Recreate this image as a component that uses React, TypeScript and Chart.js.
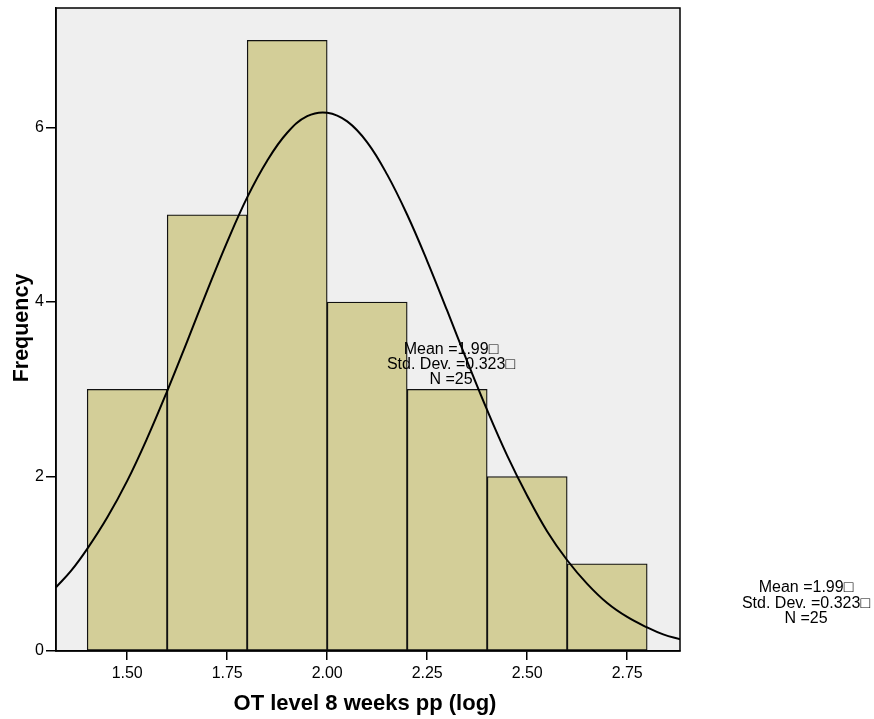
import React, { useEffect, useRef } from "react";
import { Chart, registerables } from "chart.js";

Chart.register(...registerables);

const binCenters = [1.5, 1.7, 1.9, 2.1, 2.3, 2.5, 2.7];
const frequencies = [3, 5, 7, 4, 3, 2, 1];

const curveX = [1.322, 1.36, 1.4, 1.45, 1.5, 1.55, 1.6, 1.65, 1.7, 1.75, 1.8, 1.85, 1.9, 1.95, 2.0, 2.05, 2.1, 2.15, 2.2, 2.25, 2.3, 2.35, 2.4, 2.45, 2.5, 2.55, 2.6, 2.65, 2.7, 2.75, 2.8, 2.84, 2.885];
const curveY = [0.73, 0.92, 1.17, 1.53, 1.95, 2.44, 2.98, 3.55, 4.13, 4.69, 5.2, 5.62, 5.94, 6.13, 6.17, 6.07, 5.83, 5.46, 5.0, 4.47, 3.9, 3.32, 2.76, 2.24, 1.78, 1.37, 1.04, 0.77, 0.55, 0.39, 0.27, 0.19, 0.13];

const xTickValues = [1.5, 1.75, 2.0, 2.25, 2.5, 2.75];
const xTickLabels = ["1.50", "1.75", "2.00", "2.25", "2.50", "2.75"];
const yTickValues = [0, 2, 4, 6];
const yTickLabels = ["0", "2", "4", "6"];

const xTitle = "OT level 8 weeks pp (log)";
const yTitle = "Frequency";
const statsLines = ["Mean =1.99\u25A1", "Std. Dev. =0.323\u25A1", "N =25"];

const FONT = "Arial, 'Liberation Sans', Helvetica, sans-serif";

export default function App() {
  const ref = useRef<HTMLCanvasElement | null>(null);

  useEffect(() => {
    const canvas = ref.current;
    if (!canvas) return;

    const decor = {
      id: "decor",
      beforeDraw(chart: any) {
        const { ctx, chartArea: a } = chart;
        ctx.save();
        ctx.fillStyle = "#efefef";
        ctx.fillRect(a.left, a.top, a.right - a.left, a.bottom - a.top);
        ctx.restore();
      },
      afterDraw(chart: any) {
        const { ctx, chartArea: a } = chart;
        ctx.save();
        ctx.strokeStyle = "#000";
        ctx.lineWidth = 1.5;
        ctx.strokeRect(a.left, a.top, a.right - a.left, a.bottom - a.top);

        ctx.fillStyle = "#000";
        ctx.textAlign = "center";
        ctx.textBaseline = "middle";
        ctx.font = `bold 22px ${FONT}`;
        ctx.fillText(xTitle, 365, 704);

        ctx.save();
        ctx.translate(22, 328);
        ctx.rotate(-Math.PI / 2);
        ctx.font = `bold 21.5px ${FONT}`;
        ctx.fillText(yTitle, 0, 0);
        ctx.restore();

        ctx.font = `16px ${FONT}`;
        statsLines.forEach((s, i) => {
          ctx.fillText(s, 451, 350 + i * 15);
        });
        statsLines.forEach((s, i) => {
          ctx.fillText(s, 806, 588 + i * 15.5);
        });
        ctx.restore();
      },
    };

    const chart = new Chart(canvas, {
      type: "bar",
      data: {
        datasets: [
          {
            type: "line",
            data: curveX.map((x, i) => ({ x, y: curveY[i] })),
            borderColor: "#000",
            borderWidth: 2,
            pointRadius: 0,
            tension: 0.4,
            fill: false,
            order: 1,
          } as any,
          {
            type: "bar",
            data: binCenters.map((x, i) => ({ x, y: frequencies[i] })),
            backgroundColor: "#d3ce98",
            borderColor: "#111",
            borderWidth: 1.3,
            borderSkipped: false,
            barPercentage: 1,
            categoryPercentage: 1,
            grouped: false,
            order: 2,
          } as any,
        ],
      },
      options: {
        animation: false,
        responsive: false,
        devicePixelRatio: 1,
        layout: { padding: { left: 0, top: 8, right: 194, bottom: 0 } },
        plugins: {
          legend: { display: false },
          tooltip: { enabled: false },
        },
        scales: {
          x: {
            type: "linear",
            offset: false,
            min: 1.322,
            max: 2.882,
            afterBuildTicks(scale: any) {
              scale.ticks = xTickValues.map((v) => ({ value: v }));
            },
            afterFit(scale: any) {
              scale.height = 68;
              scale.paddingLeft = 0;
              scale.paddingRight = 0;
            },
            ticks: {
              autoSkip: false,
              maxRotation: 0,
              padding: 4,
              color: "#000",
              font: { family: FONT, size: 16 },
              callback: (v: any) => {
                const i = xTickValues.indexOf(Number(v));
                return i >= 0 ? xTickLabels[i] : "";
              },
            },
            grid: {
              display: true,
              offset: false,
              drawOnChartArea: false,
              drawTicks: true,
              tickLength: 9,
              color: "#000",
              lineWidth: 1.5,
            },
            border: { display: true, color: "#000", width: 1.5 },
          },
          y: {
            type: "linear",
            min: 0,
            max: 7.37,
            afterBuildTicks(scale: any) {
              scale.ticks = yTickValues.map((v) => ({ value: v }));
            },
            afterFit(scale: any) {
              scale.width = 56;
              scale.paddingTop = 0;
              scale.paddingBottom = 0;
            },
            ticks: {
              autoSkip: false,
              padding: 2,
              color: "#000",
              font: { family: FONT, size: 16 },
              callback: (v: any) => {
                const i = yTickValues.indexOf(Number(v));
                return i >= 0 ? yTickLabels[i] : "";
              },
            },
            grid: {
              display: true,
              drawOnChartArea: false,
              drawTicks: true,
              tickLength: 10,
              color: "#000",
              lineWidth: 1.5,
            },
            border: { display: true, color: "#000", width: 1.5 },
          },
        },
      },
      plugins: [decor],
    });

    return () => chart.destroy();
  }, []);

  return (
    <div style={{ position: "absolute", left: 0, top: 0, width: 874, height: 719, background: "#fff" }}>
      <canvas ref={ref} width={874} height={719} style={{ display: "block" }} />
    </div>
  );
}
